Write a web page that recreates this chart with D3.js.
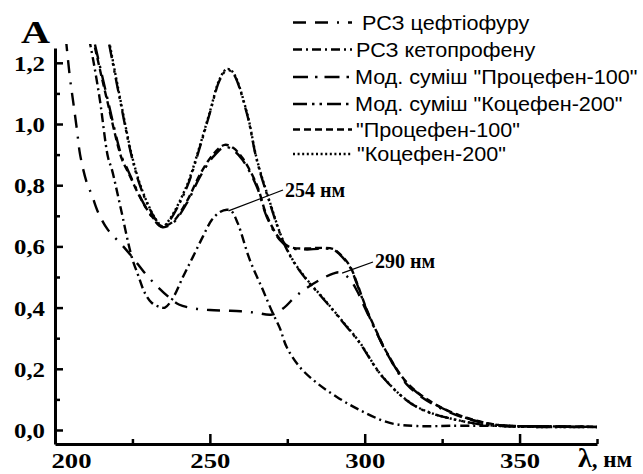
<!DOCTYPE html>
<html><head><meta charset="utf-8">
<script src="https://cdn.jsdelivr.net/npm/d3@7"></script>
<style>
html,body{margin:0;padding:0;background:#fff;}
svg{display:block;}
</style></head>
<body>
<script>
// ---- data (wavelength nm, absorbance) ----
const cefWl = [203.5,204.8,205.8,207.1,208.1,210.3,211.9,213.9,217.1,221.6,225.2,229.0,233.2,237.0,240,245,250,255,260,265,270,274,277,280,285,290,292,295,297.5,300,303.9,307.1,313.5,321.9,332.9,343.5,360,375];
const cefA  = [1.28,1.153,1.078,0.98,0.90,0.807,0.768,0.712,0.654,0.605,0.562,0.513,0.467,0.432,0.41,0.397,0.392,0.390,0.388,0.383,0.377,0.400,0.430,0.455,0.488,0.512,0.515,0.495,0.455,0.40,0.317,0.252,0.150,0.085,0.037,0.016,0.012,0.010];

const ketoWl = [211,212.5,214.5,217.1,218.4,221,224.8,226.8,229,231.3,233.9,235.5,238,241.3,244.5,247.7,250.6,253.2,255.5,257,259,262.9,267.1,270.3,272.6,274.8,279,284.5,291,298.4,308.1,316.8,331.6,375];
const ketoA  = [1.28,1.2,1.078,0.892,0.85,0.735,0.565,0.507,0.448,0.415,0.402,0.400,0.43,0.50,0.565,0.631,0.686,0.712,0.72,0.715,0.676,0.556,0.458,0.382,0.333,0.271,0.206,0.154,0.108,0.065,0.023,0.013,0.014,0.010];

const proWl = [212.9,217,221.6,223.5,228,231.3,234.5,238,242.6,246.8,251,254.8,257.5,260.6,265.2,268.4,272.6,275.8,281.3,285,289.7,291.9,295.2,297.4,300.6,303.9,307.1,313.5,321.9,332.9,343.5,360,375];
const modProA = [1.26,1.08,0.892,0.85,0.752,0.696,0.663,0.676,0.742,0.827,0.892,0.925,0.915,0.882,0.794,0.696,0.621,0.596,0.590,0.592,0.590,0.574,0.533,0.48,0.392,0.317,0.252,0.154,0.088,0.039,0.016,0.012,0.010];
const proA    = [1.25,1.07,0.885,0.845,0.750,0.698,0.666,0.680,0.748,0.835,0.90,0.932,0.922,0.888,0.800,0.700,0.624,0.598,0.593,0.595,0.592,0.576,0.536,0.483,0.395,0.320,0.254,0.156,0.089,0.040,0.016,0.012,0.010];

const koWl = [217.5,221,224.8,227.4,230,232.6,234.8,237.1,242.6,246.8,250,253.2,255.5,257.4,261.9,265.2,269.4,273.5,277,281.3,286.5,291.9,298.4,305.8,316.8,332.9,343.5,375];
const modKoA = [1.26,1.078,0.892,0.80,0.735,0.686,0.663,0.686,0.794,0.925,1.036,1.144,1.176,1.167,1.036,0.88,0.74,0.62,0.55,0.49,0.43,0.365,0.284,0.173,0.075,0.026,0.013,0.010];
const koA    = [1.27,1.085,0.898,0.805,0.738,0.688,0.665,0.690,0.800,0.930,1.040,1.148,1.180,1.170,1.040,0.884,0.744,0.622,0.552,0.492,0.432,0.367,0.286,0.174,0.076,0.026,0.013,0.010];

const legendLabels = ['РСЗ цефтіофуру','РСЗ кетопрофену','Мод. суміш "Процефен-100"','Мод. суміш "Коцефен-200"','"Процефен-100"','"Коцефен-200"'];
const yMajorTicks = [0,0.2,0.4,0.6,0.8,1.0,1.2];
const yMinorTicks = [0.1,0.3,0.5,0.7,0.9,1.1];
const xMajorTicks = [200,250,300,350];
const xMinorTicks = [225,275,325,375];
const peakLabels = ['254 нм','290 нм'];

// ---- setup ----
const W = 643, H = 474;
const svg = d3.select('body').append('svg').attr('width',W).attr('height',H);
const x = d3.scaleLinear().domain([200,375]).range([55,597]);
const y = d3.scaleLinear().domain([-0.0458,1.2484]).range([444,48]);
const serif = '"Liberation Serif","Times New Roman",serif';

const series = [
  {wl:cefWl, a:cefA,   dash:'13,9,13,9,2,9'},
  {wl:ketoWl,a:ketoA,  dash:'9,4,2,4'},
  {wl:proWl, a:modProA,dash:'15,7,2.5,7'},
  {wl:koWl,  a:modKoA, dash:'14,5,2.5,5,2.5,5'},
  {wl:proWl, a:proA,   dash:'7,4'},
  {wl:koWl,  a:koA,    dash:'2,2.6'}
];

svg.append('defs').append('clipPath').attr('id','clip')
  .append('rect').attr('x',x(200)).attr('y',44).attr('width',x(375)-x(200)+2).attr('height',y(-0.0458)-44);

const line = d3.line().x(d=>x(d[0])).y(d=>y(d[1])).curve(d3.curveCatmullRom.alpha(0.5));
const g = svg.append('g').attr('clip-path','url(#clip)');
series.forEach(s=>{
  const pts = s.wl.map((w,i)=>[w,s.a[i]]);
  g.append('path').attr('d',line(pts)).attr('fill','none').attr('stroke','#000')
    .attr('stroke-width',2.4).attr('stroke-dasharray',s.dash).attr('stroke-linejoin','round');
});

// ---- axes ----
const fmt = d=>d3.format('.1f')(d).replace('.',',');
const yAx = svg.append('g').attr('transform',`translate(${x(200)},0)`)
  .call(d3.axisLeft(y).tickValues(yMajorTicks).tickSize(-8).tickSizeOuter(0).tickFormat(fmt));
svg.append('g').attr('transform',`translate(${x(200)},0)`)
  .call(d3.axisLeft(y).tickValues(yMinorTicks).tickSize(-5).tickSizeOuter(0).tickFormat(''))
  .select('.domain').remove();
const xAx = svg.append('g').attr('transform',`translate(0,${y(-0.0458)})`)
  .call(d3.axisBottom(x).tickValues(xMajorTicks).tickSize(-10).tickSizeOuter(0).tickFormat(d3.format('d')));
svg.append('g').attr('transform',`translate(0,${y(-0.0458)})`)
  .call(d3.axisBottom(x).tickValues(xMinorTicks).tickSize(-5).tickSizeOuter(0).tickFormat(''))
  .select('.domain').remove();

svg.selectAll('.domain').attr('stroke','#000').attr('stroke-width',3);
svg.selectAll('.tick line').attr('stroke','#000').attr('stroke-width',2.5);
yAx.selectAll('.tick text').attr('x',-10).attr('dy','0.34em')
  .style('font-family',serif).style('font-weight','bold')
  .style('font-size','22px').attr('fill','#000')
  .attr('textLength',31).attr('lengthAdjust','spacingAndGlyphs');
xAx.selectAll('.tick text').attr('y',24).attr('dy','0')
  .style('font-family',serif).style('font-weight','bold')
  .style('font-size','22px').attr('fill','#000')
  .attr('dx',d=>d===200?16:0)
  .attr('textLength',40).attr('lengthAdjust','spacingAndGlyphs');

// axis titles
svg.append('text').attr('x',21).attr('y',43).text('A')
  .style('font-family',serif).style('font-weight','bold')
  .style('font-size','32px').attr('textLength',29).attr('lengthAdjust','spacingAndGlyphs');
const xt = svg.append('text').attr('x',578).attr('y',467)
  .style('font-family',serif).style('font-weight','bold');
xt.append('tspan').text('λ').style('font-size','28px');
xt.append('tspan').text(', нм').style('font-size','23px');

// ---- legend ----
const lg = svg.append('g');
const rowY = [29.5,56.5,84,111,136.5,161];
const textX = [362,356,355,355,356,357];
legendLabels.forEach((lab,i)=>{
  lg.append('line').attr('x1',293).attr('x2',352).attr('y1',rowY[i]-7).attr('y2',rowY[i]-7)
    .attr('stroke','#000').attr('stroke-width',2.4).attr('stroke-dasharray',series[i].dash);
  lg.append('text').attr('transform',`translate(${textX[i]},${rowY[i]}) scale(1.08,1)`).text(lab)
    .style('font-family','"Liberation Sans",Arial,sans-serif').style('font-size','20px').attr('fill','#000');
});

// ---- peak annotations ----
const ann = [
  {wl:256, a:0.716, tx:283, ty:190, lx:285, ly:197},
  {wl:292.7, a:0.513, tx:373, ty:262, lx:375, ly:268}
];
ann.forEach((d,i)=>{
  svg.append('line').attr('x1',x(d.wl)).attr('y1',y(d.a)).attr('x2',d.tx).attr('y2',d.ty)
    .attr('stroke','#000').attr('stroke-width',1.3);
  svg.append('text').attr('x',d.lx).attr('y',d.ly).text(peakLabels[i])
    .style('font-family',serif).style('font-weight','bold')
    .style('font-size','20px');
});
</script>
</body></html>
